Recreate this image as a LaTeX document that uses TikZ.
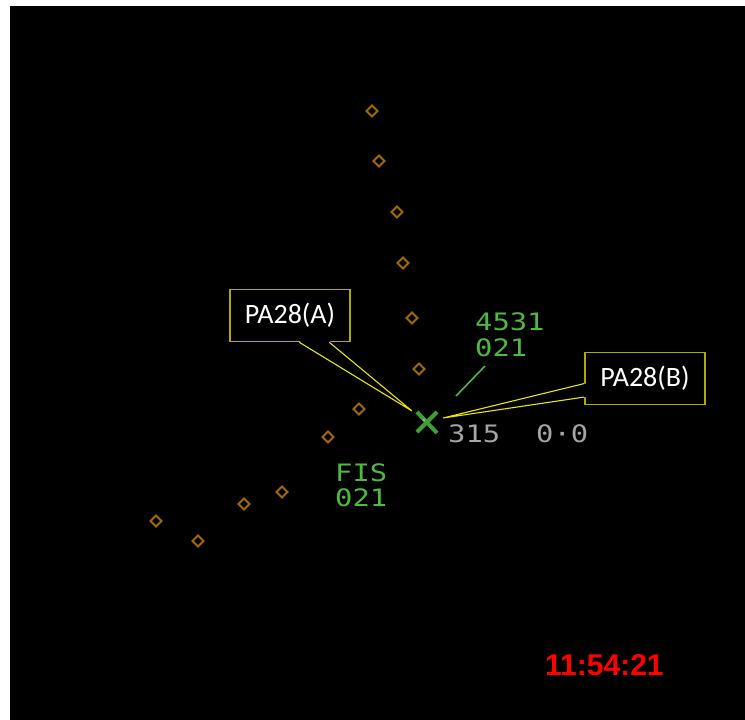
\documentclass[tikz,border=0pt]{standalone}
\usepackage{fontspec}
\setmainfont{Carlito}
\newfontfamily\radarfont[FakeStretch=1.2]{DejaVu Sans Mono}
\newfontfamily\clockfont{Liberation Sans}
\usetikzlibrary{positioning,calc}
\definecolor{radargreen}{RGB}{80,185,65}
\definecolor{targetgreen}{RGB}{60,160,50}
\definecolor{labelgrey}{RGB}{165,165,165}
\definecolor{trail}{RGB}{160,105,10}
\definecolor{calloutedge}{RGB}{175,170,0}
\definecolor{calloutline}{RGB}{235,230,0}
\definecolor{clockred}{RGB}{255,0,0}

\begin{document}
\begin{tikzpicture}[x=1pt, y=-1pt,
    trackpt/.style={draw=trail, line width=2pt},
    tag/.style={font=\radarfont\fontsize{24}{24}\selectfont, text=radargreen, inner sep=0pt, anchor=base west,
      text height=18pt, text depth=0pt},
    readout/.style={font=\radarfont\fontsize{24}{24}\selectfont, text=labelgrey, inner sep=0pt, anchor=base west,
      text height=18pt, text depth=0pt},
    calloutbox/.style={draw=calloutedge, fill=black, line width=1.5pt, minimum width=120pt, minimum height=52pt,
      inner sep=0pt, text=white, font=\fontsize{28}{28}\selectfont},
    clock/.style={font=\clockfont\bfseries\fontsize{30}{30}\selectfont, text=clockred, inner sep=0pt, anchor=base west}]

  % Screen
  \useasboundingbox (0,0) rectangle (745,720);
  \fill[white] (0,0) rectangle (745,720);
  \fill[black] (10,6) rectangle (745,720);

  % Track history
  \foreach \x/\y in {372/111, 379/161, 397/212, 403/263, 412/318, 419/369,
                     359/409, 328/437, 282/492, 244/504, 156/521, 198/541} {
    \draw[trackpt] (\x,\y) +(-5.5,0) -- +(0,-5.5) -- +(5.5,0) -- +(0,5.5) -- cycle;
  }

  % Target symbol
  \coordinate (tgt) at (427,422);
  \draw[targetgreen, line width=4pt] ($(tgt)+(-10,-10)$) -- ($(tgt)+(10,11)$);
  \draw[targetgreen, line width=4pt] ($(tgt)+(10,-10)$) -- ($(tgt)+(-10,10)$);
  \fill[labelgrey] ($(tgt)+(-3,-2)$) circle (1.6pt);

  % Data blocks
  \node[tag] (sqk) at (475,330) {4531};
  \node[tag] (lvl) at (475,356) {021};
  \node[tag] (fis) at (335,481) {FIS};
  \node[tag] (fislvl) at (335,506) {021};
  \node[readout] (hdg) at (448,442) {315};
  \node[readout] (spd) at (536,442) {0·0};

  % Leader line
  \coordinate (ldtop) at (485,366);
  \coordinate (ldbot) at (456,396);
  \draw[radargreen, line width=1.6pt] (ldtop) -- (ldbot);

  % Callouts
  \node[calloutbox] (pa28a) at (290,315.5) {PA28(A)};
  \node[calloutbox] (pa28b) at (645,378.3) {PA28(B)};
  \coordinate (tipA) at (412,411);
  \coordinate (tipB) at (443,418);
  \fill[black] ($(pa28a.south west)+(70,-1.5)$) -- (tipA) -- ($(pa28a.south west)+(100,-1.5)$) -- cycle;
  \fill[black] ($(pa28b.south west)+(1.5,-8)$) -- (tipB) -- ($(pa28b.south west)+(1.5,-21.5)$) -- cycle;
  \draw[calloutline, line width=1.1pt] ($(pa28a.south west)+(70,0)$) -- (tipA) -- ($(pa28a.south west)+(100,0)$);
  \draw[calloutline, line width=1.1pt] ($(pa28b.south west)+(0,-8)$) -- (tipB) -- ($(pa28b.south west)+(0,-21.5)$);

  % Clock
  \node[clock] (clk) at (545,675) {11:54:21};

\end{tikzpicture}
\end{document}
